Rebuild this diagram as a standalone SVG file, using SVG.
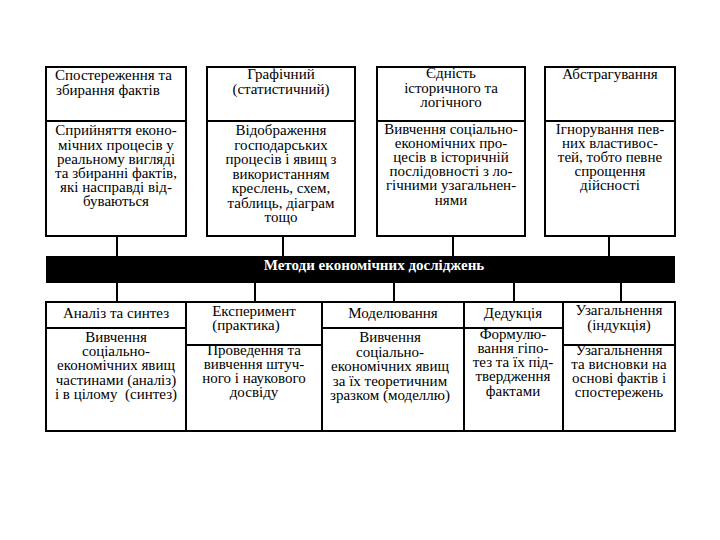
<svg xmlns="http://www.w3.org/2000/svg" width="720" height="540" viewBox="0 0 720 540">
<style>
.b{fill:#fff;stroke:#000;stroke-width:2}
.l{stroke:#000;stroke-width:2;fill:none}
text{font-size:15px;fill:#000}
.c{text-anchor:middle}
.h{font-weight:bold;fill:#fff}
</style>
<rect width="720" height="540" fill="#fff"/>
<g font-family="'Liberation Serif', 'DejaVu Serif', serif">
<g id="connectors">
<path class="l" d="M117 236V256M283 236V256M453 236V256M609 236V256"/>
<path class="l" d="M117 283V302M255 283V302M394 283V302M514 283V302M621 283V302"/>
</g>
<g id="band">
<rect x="46" y="256" width="629" height="27" fill="#000"/>
<text class="c h" x="374" y="270">Методи економічних досліджень</text>
</g>
<g id="n1">
<rect class="b" x="46" y="67" width="140" height="54"/>
<rect class="b" x="46" y="121" width="140" height="115"/>
<text x="55" y="80">Спостереження та</text>
<text x="56" y="95">збирання фактів</text>
<g class="c">
<text x="116" y="135">Сприйняття еконо-</text>
<text x="116" y="149.5">мічних процесів у</text>
<text x="116" y="163.5">реальному вигляді</text>
<text x="116" y="177.5">та збиранні фактів,</text>
<text x="116" y="192">які насправді від-</text>
<text x="116" y="206">буваються</text>
</g>
</g>
<g id="n2" class="c">
<rect class="b" x="207" y="67" width="148" height="54"/>
<rect class="b" x="207" y="121" width="148" height="115"/>
<text x="281" y="79">Графічний</text>
<text x="281" y="94">(статистичний)</text>
<text x="281" y="135">Відображення</text>
<text x="281" y="149.5">господарських</text>
<text x="281" y="164">процесів і явищ з</text>
<text x="281" y="178.5">використанням</text>
<text x="281" y="193">креслень, схем,</text>
<text x="281" y="207.5">таблиць, діаграм</text>
<text x="281" y="222">тощо</text>
</g>
<g id="n3" class="c">
<rect class="b" x="377" y="67" width="148" height="54"/>
<rect class="b" x="377" y="121" width="148" height="115"/>
<text x="451" y="78">Єдність</text>
<text x="451" y="93">історичного та</text>
<text x="451" y="107">логічного</text>
<text x="451" y="134">Вивчення соціально-</text>
<text x="451" y="148">економічних про-</text>
<text x="451" y="162">цесів в історичній</text>
<text x="451" y="176">послідовності з ло-</text>
<text x="451" y="190">гічними узагальнен-</text>
<text x="451" y="205">нями</text>
</g>
<g id="n4" class="c">
<rect class="b" x="545" y="67" width="130" height="54"/>
<rect class="b" x="545" y="121" width="130" height="115"/>
<text x="610" y="79">Абстрагування</text>
<text x="610" y="134">Ігнорування пев-</text>
<text x="610" y="148">них властивос-</text>
<text x="610" y="162">тей, тобто певне</text>
<text x="610" y="176">спрощення</text>
<text x="610" y="190">дійсності</text>
</g>
<g id="n5" class="c">
<rect class="b" x="46" y="302" width="140" height="26"/>
<rect class="b" x="46" y="328" width="140" height="103"/>
<text x="116" y="318">Аналіз та синтез</text>
<text x="116" y="342">Вивчення</text>
<text x="116" y="356">соціально-</text>
<text x="116" y="370">економічних явищ</text>
<text x="116" y="384.5">частинами (аналіз)</text>
<text x="116" y="398.5">і в цілому &#160;(синтез)</text>
</g>
<g id="n6" class="c">
<rect class="b" x="186" y="302" width="136" height="43"/>
<rect class="b" x="186" y="345" width="136" height="86"/>
<text x="254" y="316">Експеримент</text>
<text x="246" y="330">(практика)</text>
<text x="254" y="355">Проведення та</text>
<text x="254" y="369">вивчення штуч-</text>
<text x="254" y="383">ного і наукового</text>
<text x="254" y="397">досвіду</text>
</g>
<g id="n7" class="c">
<rect class="b" x="322" y="302" width="142" height="26"/>
<rect class="b" x="322" y="328" width="142" height="103"/>
<text x="393" y="318">Моделювання</text>
<text x="390" y="342">Вивчення</text>
<text x="390" y="357">соціально-</text>
<text x="390" y="371">економічних явищ</text>
<text x="390" y="386">за їх теоретичним</text>
<text x="390" y="400">зразком (моделлю)</text>
</g>
<g id="n8" class="c">
<rect class="b" x="464" y="302" width="99" height="26"/>
<path class="l" d="M464 328H563V431H464V345"/>
<text x="513" y="318">Дедукція</text>
<text x="513" y="339">Формулю-</text>
<text x="513" y="353">вання гіпо-</text>
<text x="513" y="367">тез та їх під-</text>
<text x="513" y="381">твердження</text>
<text x="513" y="396">фактами</text>
</g>
<g id="n9" class="c">
<rect class="b" x="563" y="302" width="112" height="43"/>
<rect class="b" x="563" y="345" width="112" height="86"/>
<text x="619" y="315">Узагальнення</text>
<text x="619" y="330">(індукція)</text>
<text x="619" y="355">Узагальнення</text>
<text x="619" y="369">та висновки на</text>
<text x="619" y="383">основі фактів і</text>
<text x="619" y="397">спостережень</text>
</g>
</g>
</svg>
